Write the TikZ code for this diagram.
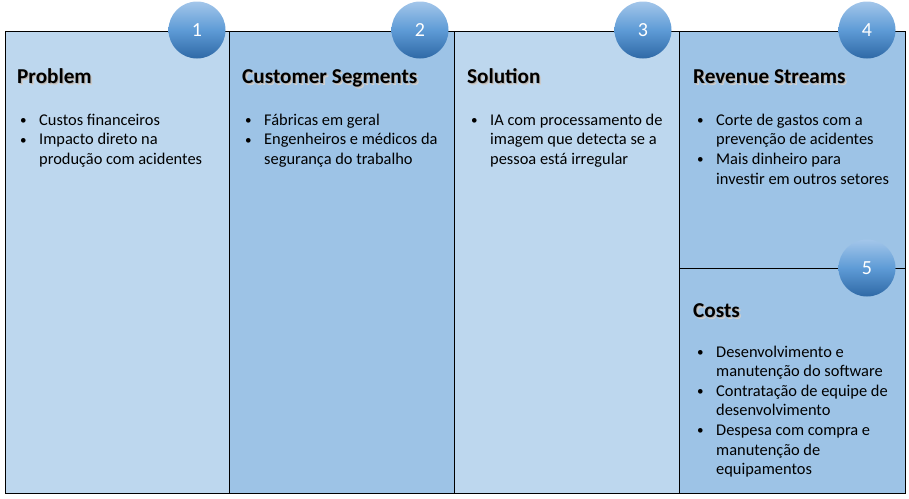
\documentclass[tikz,border=0pt]{standalone}
\usepackage{fontspec}
\setmainfont{Carlito}
\usepackage{array}
\usepackage{graphicx}

\definecolor{paleblue}{HTML}{BDD7EE}
\definecolor{midblue}{HTML}{9DC3E6}
\definecolor{badgetop}{HTML}{A3C6EA}
\definecolor{badgemid}{HTML}{5E9BD6}
\definecolor{badgebottom}{HTML}{2F69A6}

% heading text with a soft grey drop shadow behind it
\newcommand\headshadow[1]{%
  \rlap{\color{black!18}\raisebox{-1.8pt}{\kern1.8pt #1}}%
  \rlap{\color{black!30}\raisebox{-1pt}{\kern1pt #1}}%
  #1}

% small list bullet
\newcommand\dotmark{\raisebox{0.6pt}{\scalebox{0.8}{•}}}

% bullet list: one row per printed line, rows one baselineskip apart
\newenvironment{bulletrows}
  {\begin{tabular}[t]{@{}p{19pt}@{}l@{}}}
  {\end{tabular}}

\tikzset{
  panel/.style={draw=black, line width=1pt},
  badge/.style={circle, minimum size=57pt, inner sep=0pt,
    top color=badgetop, bottom color=badgebottom, middle color=badgemid,
    text=white, font=\fontsize{20}{22}\selectfont},
  heading/.style={anchor=base west, inner sep=0pt,
    font=\fontsize{21.2}{24}\selectfont\bfseries},
  bullets/.style={anchor=base west, inner sep=0pt,
    font=\fontsize{16.4}{19.6}\selectfont},
}

\begin{document}
\begin{tikzpicture}[x=1pt,y=-1pt]
  \useasboundingbox (0,0) rectangle (909,498);

  % column backgrounds
  \fill[paleblue] (5,31) rectangle (229,493);
  \fill[midblue]  (229,31) rectangle (454,493);
  \fill[paleblue] (454,31) rectangle (679,493);
  \fill[midblue]  (679,31) rectangle (905,493);

  % frame and dividers
  \draw[panel] (5,31) rectangle (905,493);
  \draw[panel] (229,31) -- (229,493);
  \draw[panel] (454,31) -- (454,493);
  \draw[panel] (679,31) -- (679,493);
  \draw[panel] (679,268) -- (905,268);

  % numbered badges
  \node[badge] (n1) at (197,30)  {1};
  \node[badge] (n2) at (420,30)  {2};
  \node[badge] (n3) at (643,30)  {3};
  \node[badge] (n4) at (867,30)  {4};
  \node[badge] (n5) at (867,268) {5};

  % headings
  \node[heading] (h1) at (17,83.5)   {\headshadow{Problem}};
  \node[heading] (h2) at (242,83.5)  {\headshadow{Customer Segments}};
  \node[heading] (h3) at (467,83.5)  {\headshadow{Solution}};
  \node[heading] (h4) at (693,83.5)  {\headshadow{Revenue Streams}};
  \node[heading] (h5) at (693,317.5) {\headshadow{Costs}};

  % bullet lists
  \node[bullets] (l1) at (20,125.3) {\begin{bulletrows}
    \dotmark & Custos financeiros \\
    \dotmark & Impacto direto na \\
             & produção com acidentes
  \end{bulletrows}};
  \node[bullets] (l2) at (245,125.3) {\begin{bulletrows}
    \dotmark & Fábricas em geral \\
    \dotmark & Engenheiros e médicos da \\
             & segurança do trabalho
  \end{bulletrows}};
  \node[bullets] (l3) at (471,125.3) {\begin{bulletrows}
    \dotmark & IA com processamento de \\
             & imagem que detecta se a \\
             & pessoa está irregular
  \end{bulletrows}};
  \node[bullets] (l4) at (697,125.3) {\begin{bulletrows}
    \dotmark & Corte de gastos com a \\
             & prevenção de acidentes \\
    \dotmark & Mais dinheiro para \\
             & investir em outros setores
  \end{bulletrows}};
  \node[bullets] (l5) at (697,357) {\begin{bulletrows}
    \dotmark & Desenvolvimento e \\
             & manutenção do software \\
    \dotmark & Contratação de equipe de \\
             & desenvolvimento \\
    \dotmark & Despesa com compra e \\
             & manutenção de \\
             & equipamentos
  \end{bulletrows}};
\end{tikzpicture}
\end{document}
